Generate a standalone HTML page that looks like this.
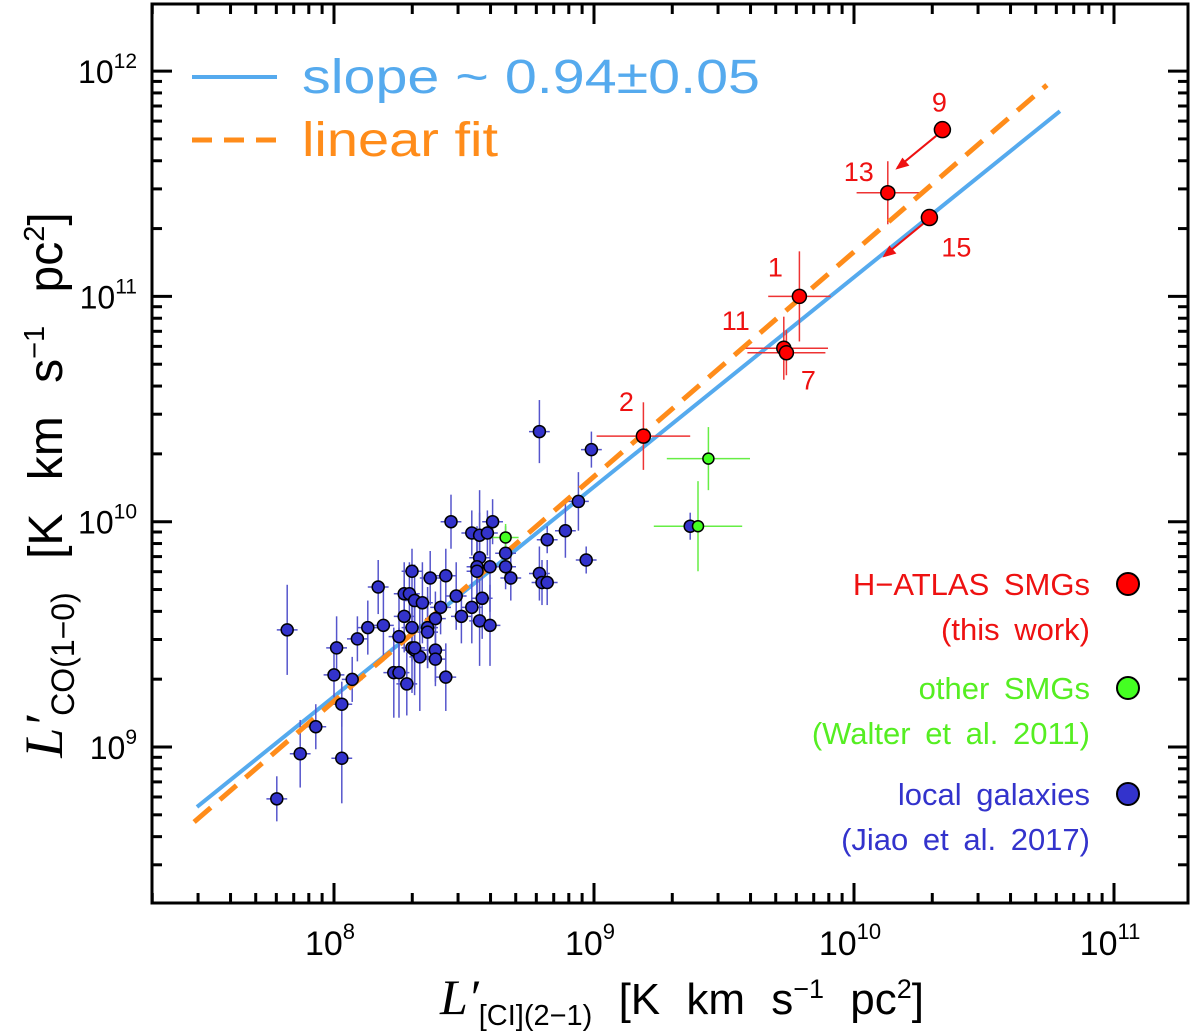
<!DOCTYPE html>
<html><head><meta charset="utf-8"><style>
body{margin:0;background:#fff;}
svg{display:block;font-family:"Liberation Sans",sans-serif;}
</style></head><body>
<svg id="chart" width="1200" height="1035" viewBox="0 0 1200 1035" xmlns="http://www.w3.org/2000/svg">
<g id="marks"></g>
<rect x="152" y="4" width="1036" height="899" fill="none" stroke="#000" stroke-width="3"/>
<g id="ticks"></g>
<g>
<line x1="192" y1="77" x2="277" y2="77" stroke="#55aaee" stroke-width="4"/>
<text x="302" y="93" font-size="48" fill="#55aaee" textLength="458" lengthAdjust="spacingAndGlyphs">slope ~ 0.94±0.05</text>
<line x1="192" y1="140" x2="277" y2="140" stroke="#ff8c1a" stroke-width="5" stroke-dasharray="20,12"/>
<text x="302" y="156" font-size="48" fill="#ff8c1a" textLength="196" lengthAdjust="spacingAndGlyphs">linear fit</text>
</g>
<g font-size="31" text-anchor="end" word-spacing="6">
<text x="1090" y="595" fill="#ee1111">H−ATLAS SMGs</text>
<text x="1090" y="640" fill="#ee1111">(this work)</text>
<circle cx="1128" cy="584" r="11" fill="#ff0000" stroke="#000" stroke-width="2"/>
<text x="1090" y="699" fill="#55ee22">other SMGs</text>
<text x="1090" y="744" fill="#55ee22">(Walter et al. 2011)</text>
<circle cx="1128" cy="688" r="11" fill="#44ff22" stroke="#000" stroke-width="2"/>
<text x="1090" y="805" fill="#3333cc">local galaxies</text>
<text x="1090" y="850" fill="#3333cc">(Jiao et al. 2017)</text>
<circle cx="1128" cy="794" r="11" fill="#3333cc" stroke="#000" stroke-width="2"/>
</g>
<text x="682" y="1014" text-anchor="middle" font-size="44" word-spacing="14"><tspan font-family="Liberation Serif,serif" font-style="italic" font-size="50">L′</tspan><tspan font-size="29" dy="11">[CI](2−1)</tspan><tspan dy="-11"> [K km s</tspan><tspan font-size="27" dy="-16">−1</tspan><tspan dy="16"> pc</tspan><tspan font-size="27" dy="-16">2</tspan><tspan dy="16">]</tspan></text>
<text transform="translate(62,485) rotate(-90)" text-anchor="middle" font-size="48" word-spacing="20"><tspan font-family="Liberation Serif,serif" font-style="italic" font-size="54">L′</tspan><tspan font-size="32" dy="12">CO(1−0)</tspan><tspan dy="-12"> [K km s</tspan><tspan font-size="29" dy="-18">−1</tspan><tspan dy="18"> pc</tspan><tspan font-size="29" dy="-18">2</tspan><tspan dy="18">]</tspan></text>
</svg>
<script>
// log10 values
const localX=[8.79,8.99,8.94,8.89,8.82,8.97,8.79,8.80,8.82,8.45,8.53,8.56,8.59,8.61,8.56,8.55,8.55,8.60,8.66,8.66,8.68,8.57,8.53,8.56,8.60,8.49,8.47,8.43,8.37,8.30,8.17,8.27,8.29,8.31,8.34,8.27,8.30,8.36,8.36,8.39,8.41,8.25,8.19,8.13,8.09,8.01,7.82,8.00,8.07,8.03,7.93,7.87,8.03,7.78,8.23,8.25,8.28,8.30,8.31,8.33,8.39,8.39,8.43,8.31,9.37];
const localY=[10.40,10.32,10.09,9.96,9.92,9.83,9.77,9.73,9.73,10.00,9.95,9.94,9.95,10.00,9.84,9.80,9.78,9.80,9.86,9.80,9.75,9.66,9.62,9.56,9.54,9.58,9.67,9.76,9.75,9.78,9.71,9.68,9.68,9.65,9.64,9.58,9.53,9.53,9.51,9.57,9.62,9.49,9.54,9.53,9.48,9.44,9.52,9.32,9.30,9.19,9.09,8.97,8.95,8.77,9.33,9.33,9.28,9.44,9.43,9.40,9.43,9.39,9.31,9.44,9.98];
const localYerr=[0.14,0.08,0.13,0.12,0.06,0.06,0.12,0.1,0.1,0.12,0.1,0.2,0.1,0.1,0.2,0.18,0.15,0.2,0.12,0.1,0.1,0.18,0.16,0.2,0.18,0.12,0.15,0.12,0.12,0.1,0.12,0.14,0.14,0.16,0.18,0.16,0.15,0.18,0.16,0.12,0.12,0.2,0.16,0.12,0.1,0.14,0.2,0.1,0.1,0.1,0.1,0.15,0.2,0.1,0.2,0.2,0.14,0.2,0.2,0.24,0.14,0.12,0.15,0.18,0.06];
const greenX=[8.66,9.44,9.40];
const greenY=[9.93,10.28,9.98];
const greenXerr=[0.05,0.16,0.17];
const greenYerr=[0.06,0.14,0.2];
const redLabels=["2","1","11","7","13","9","15"];
const redX=[9.19,9.79,9.73,9.74,10.13,10.34,10.29];
const redY=[10.38,11.00,10.77,10.75,11.46,11.74,11.35];
const redXerr=[0.18,0.12,0.17,0.15,0.12,0,0];
const redYerr=[0.15,0.2,0.14,0.1,0.14,0,0];
const fitBlueX=[7.473,10.792];
const fitBlueY=[8.734,11.822];
const fitOrangeX=[7.462,10.742];
const fitOrangeY=[8.667,11.938];
const xTickDecades=[8,9,10,11];
const yTickDecades=[9,10,11,12];

const NS="http://www.w3.org/2000/svg";
const BOTTOM=903;
const xs=v=>334+(v-8)*260;
const ys=v=>747-(v-9)*225.3;
const XMIN=8-(334-152)/260, XMAX=8+(1188-334)/260;
const YMIN=9-(BOTTOM-747)/225.3, YMAX=9+(747-4)/225.3;
const marks=document.getElementById('marks');
const ticks=document.getElementById('ticks');
function mk(tag,attrs,parent){const e=document.createElementNS(NS,tag);for(const k in attrs)e.setAttribute(k,attrs[k]);parent.appendChild(e);return e;}

function errbars(x,y,xe,ye,col,name){
  if(ye>0){const l=mk('line',{x1:xs(x),x2:xs(x),y1:ys(y-ye),y2:ys(y+ye),stroke:col,'stroke-width':1.5},marks);
  
  }
  if(xe>0){const l=mk('line',{x1:xs(x-xe),x2:xs(x+xe),y1:ys(y),y2:ys(y),stroke:col,'stroke-width':1.5},marks);
  
  }
}
let fl=mk('line',{x1:xs(fitBlueX[0]),y1:ys(fitBlueY[0]),x2:xs(fitBlueX[1]),y2:ys(fitBlueY[1]),stroke:'#55aaee','stroke-width':4},marks);


for(let i=0;i<localX.length;i++) errbars(localX[i],localY[i],0.04,localYerr[i],'#5555cc','local-galaxy');
for(let i=0;i<greenX.length;i++) errbars(greenX[i],greenY[i],greenXerr[i],greenYerr[i],'#66ee44','other-smg');
for(let i=0;i<redX.length;i++) errbars(redX[i],redY[i],redXerr[i],redYerr[i],'#ee3333','hatlas-smg');
fl=mk('line',{x1:xs(fitOrangeX[0]),y1:ys(fitOrangeY[0]),x2:xs(fitOrangeX[1]),y2:ys(fitOrangeY[1]),stroke:'#ff8c1a','stroke-width':5,'stroke-dasharray':'22,12'},marks);


for(let i=0;i<localX.length;i++){const c=mk('circle',{cx:xs(localX[i]),cy:ys(localY[i]),r:6,fill:'#3333cc',stroke:'#000','stroke-width':1.5},marks);

}
for(let i=0;i<greenX.length;i++){const c=mk('circle',{cx:xs(greenX[i]),cy:ys(greenY[i]),r:5.5,fill:'#44ff22',stroke:'#000','stroke-width':1.5},marks);

}
const lblOff={"2":[-17,-25],"1":[-24,-20],"11":[-48,-18],"7":[22,37],"13":[-29,-12],"9":[-3,-18],"15":[27,39]};
for(let i=0;i<redX.length;i++){
  const big=redXerr[i]===0;
  const cx=xs(redX[i]),cy=ys(redY[i]);
  if(big){const a=mk('line',{x1:cx-6,y1:cy+6,x2:cx-45,y2:cy+38,stroke:'#ee1111','stroke-width':2},marks);
  
  
  const h=mk('polygon',{points:`${cx-47},${cy+40} ${cx-33},${cy+36} ${cx-40},${cy+28}`,fill:'#ee1111'},marks);
  
  }
  const c=mk('circle',{cx:cx,cy:cy,r:big?8:7,fill:'#ff0000',stroke:'#000','stroke-width':1.5},marks);
  
  
  const o=lblOff[redLabels[i]];
  const t=mk('text',{x:cx+o[0],y:cy+o[1],'font-size':27,fill:'#ee1111','text-anchor':'middle'},marks);
  t.textContent=redLabels[i];
  
  
}
function tline(x1,y1,x2,y2,name){const l=mk('line',{x1,y1,x2,y2,stroke:'#000','stroke-width':3},ticks);

}
for(let d=7;d<=11;d++)for(let m=1;m<=9;m++){
  const v=d+Math.log10(m); if(v<XMIN||v>XMAX) continue;
  const L=m===1?20:10,x=xs(v);
  tline(x,BOTTOM,x,BOTTOM-L,'x-tick');tline(x,4,x,4+L,'x-tick-top');
}
for(let d=8;d<=12;d++)for(let m=1;m<=9;m++){
  const v=d+Math.log10(m); if(v<YMIN||v>YMAX) continue;
  const L=m===1?20:10,y=ys(v);
  tline(152,y,152+L,y,'y-tick');tline(1188,y,1188-L,y,'y-tick-right');
}
xTickDecades.forEach(d=>{const t=mk('text',{x:xs(d)-4,y:955,'font-size':34,'text-anchor':'middle'},ticks);
t.innerHTML=`10<tspan font-size="22" dy="-16">${d}</tspan>`;

});
yTickDecades.forEach(d=>{const t=mk('text',{x:137,y:ys(d)+12,'font-size':32,'text-anchor':'end'},ticks);
t.innerHTML=`10<tspan font-size="21" dy="-15">${d}</tspan>`;

});
</script>
</body></html>
